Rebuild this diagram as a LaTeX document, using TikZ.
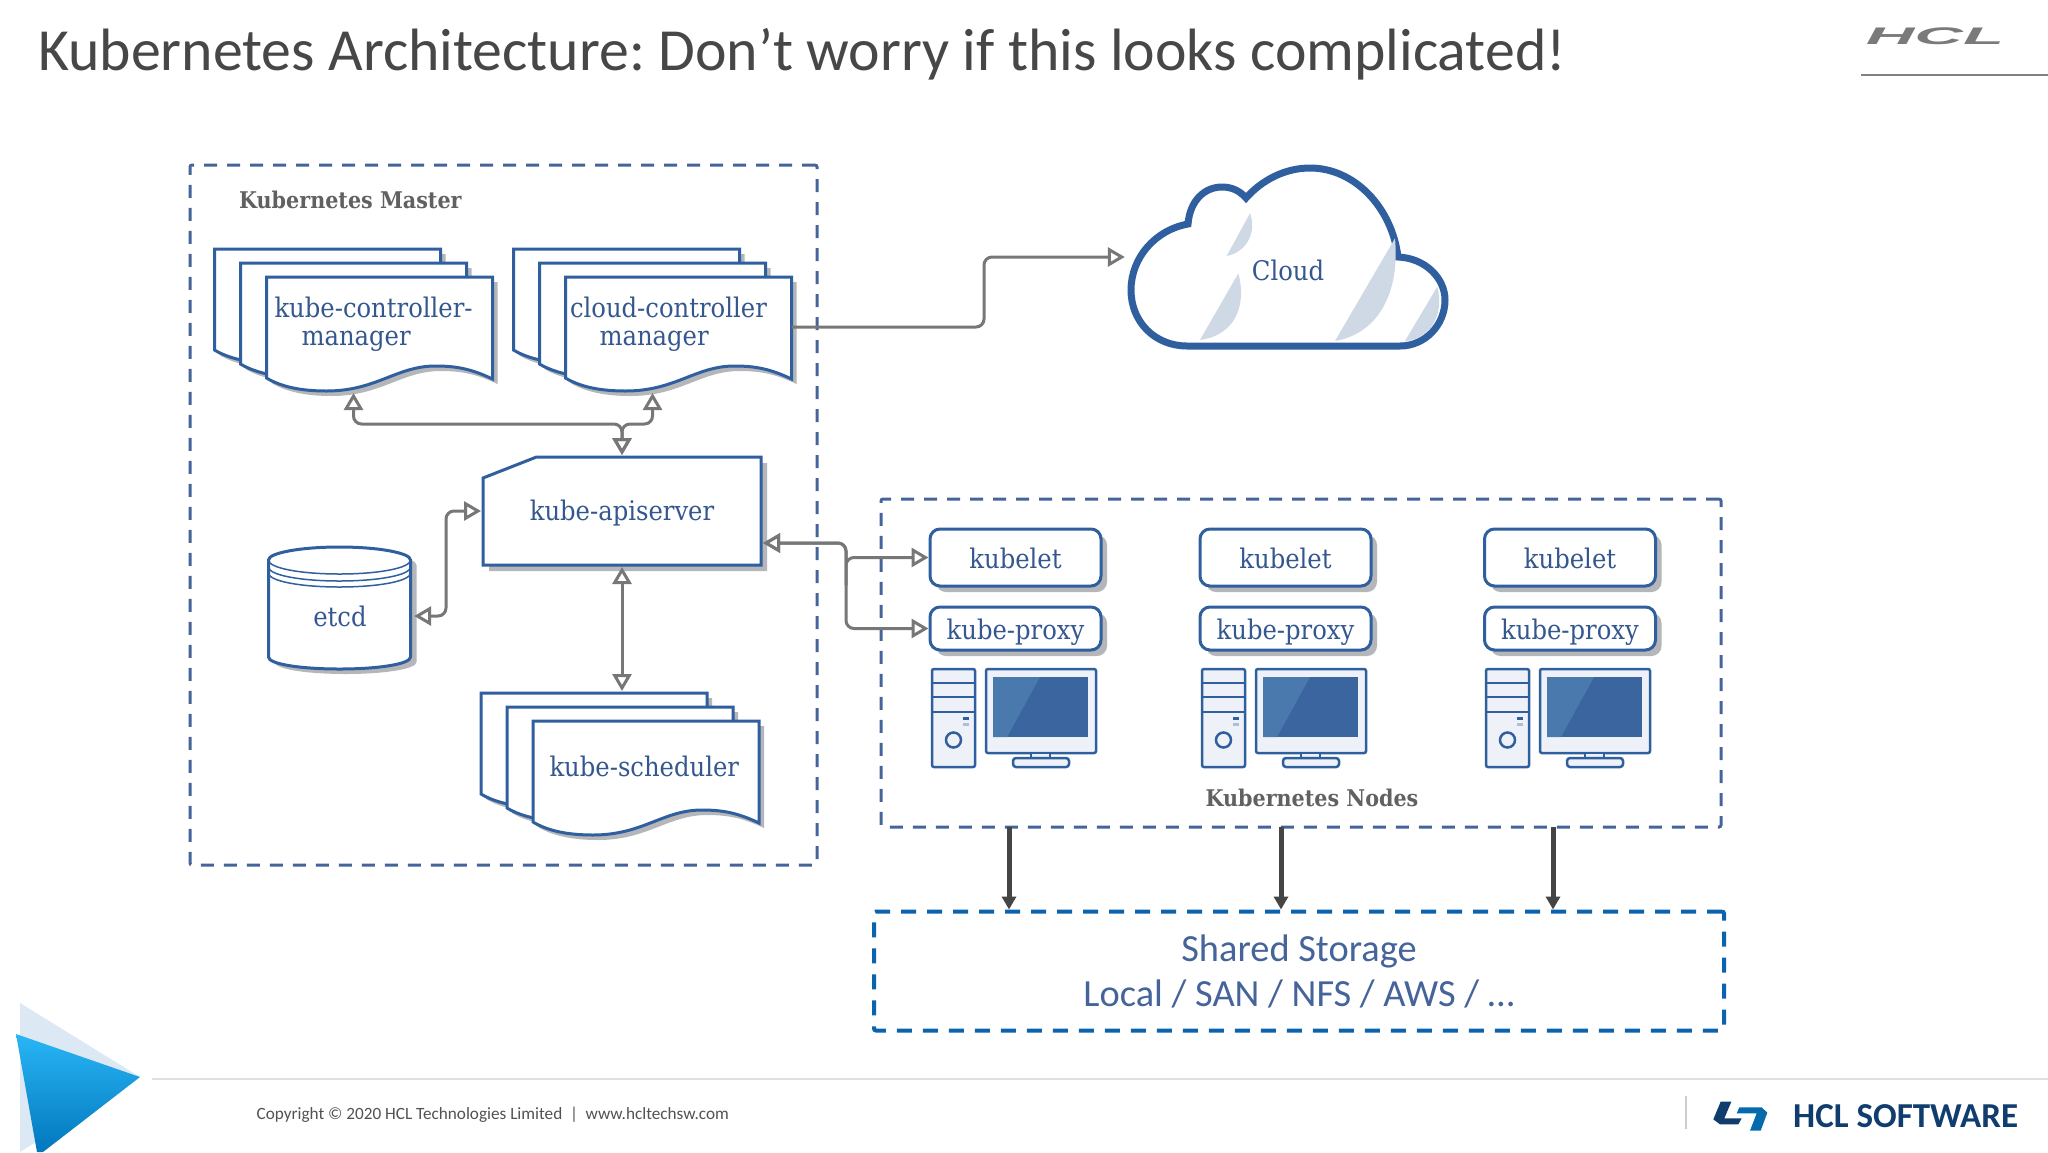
\documentclass[tikz,border=0pt]{standalone}
\usepackage{fontspec}
\setmainfont{Carlito}
\newfontfamily\slabfont{DejaVu Serif Condensed}
\newfontfamily\markfont{Liberation Sans}
\usepackage{tikz}
\usetikzlibrary{arrows.meta, calc, shadows, positioning}

\definecolor{linkgray}{HTML}{777777}
\definecolor{shadowgray}{HTML}{B4B6B9}
\definecolor{kubeblue}{HTML}{2F5F9F}
\definecolor{screenblue}{HTML}{3A659E}
\definecolor{screenlight}{HTML}{4A79AE}
\definecolor{dashblue}{HTML}{44649A}
\definecolor{storeblue}{HTML}{0B63AE}
\definecolor{textblue}{HTML}{34578F}
\definecolor{stripe}{HTML}{CFD9E6}
\definecolor{paleblue}{HTML}{EEF2F8}
\definecolor{triangletop}{HTML}{29B6F6}
\definecolor{trianglelow}{HTML}{0277BD}
\definecolor{trianglepale}{HTML}{DCE9F5}
\definecolor{softnavy}{HTML}{0F3D6E}

\newcommand{\sheetpath}{(0,0) -- (226,0) -- (226,102)
 .. controls (205,92) and (190,89) .. (169,89)
 .. controls (130,89) and (110,114) .. (60,114)
 .. controls (35,114) and (15,110) .. (0,101) -- cycle}

\newcommand{\etcdpath}{(268.5,560) .. controls (268.5,553) and (300,547) .. (339.5,547)
 .. controls (379,547) and (410.5,553) .. (410.5,560) -- (410.5,657)
 .. controls (410.5,664) and (379,669) .. (339.5,669)
 .. controls (300,669) and (268.5,664) .. (268.5,657) -- cycle}

\newcommand{\apipath}{(536.5,457) -- (761,457) -- (761,565) -- (483,565) -- (483,478) -- cycle}

% three sheets, then the named label on top
\newcommand{\docstack}[4]{
 \foreach \dx/\dy in {0/0,26/14,52/28}{
  \begin{scope}[shift={(#2+\dx,#3+\dy)}]
   \fill[shadowgray, shift={(5,5)}] \sheetpath;
   \draw[sheet] \sheetpath;
  \end{scope}
 }
 \node[doclabel] (#1) at (#2+165,#3+75) {#4};
 \coordinate (#1-port) at (#2+139,#3+144);
 \coordinate (#1-out) at (#2+278,#3+78);
}

\newcommand{\computer}[1]{
 \begin{scope}[shift={(#1,0)}]
  \draw[pcline, rounded corners=2pt] (0,669) rectangle (43,767);
  \draw[pcline, line width=1.5pt] (0,683) -- (43,683) (0,697) -- (43,697) (0,712) -- (43,712);
  \draw[kubeblue, line width=2.5pt] (21.5,740) circle (7.5);
  \fill[kubeblue] (31,717) rectangle (37,720);
  \fill[kubeblue!40] (31,723) rectangle (37,726);
  \draw[pcline, rounded corners=2pt] (54,669) rectangle (164,753);
  \fill[screenblue] (61,677) rectangle (156,737);
  \fill[screenlight] (61,677) -- (108,677) -- (75,737) -- (61,737) -- cycle;
  \draw[pcline] (99,753) rectangle (118,758);
  \draw[pcline, rounded corners=3pt] (81,758) rectangle (137,767);
 \end{scope}
}

\begin{document}
\frenchspacing
\begin{tikzpicture}[
 x=1pt, y=-1pt,
 sheet/.style={draw=kubeblue, fill=white, line width=3pt, line join=miter},
 doclabel/.style={inner sep=0pt, minimum width=226pt, minimum height=100pt, text width=226pt, align=left,
  text=textblue, font=\slabfont\fontsize{27}{28.5}\selectfont},
 pcline/.style={draw=kubeblue, fill=paleblue, line width=2.5pt},
 svcbox/.style={draw=kubeblue, fill=white, line width=3pt, rounded corners=10pt, minimum width=171pt,
  text=textblue, font=\slabfont\fontsize{27}{30}\selectfont, inner sep=0pt, text height=21pt, text depth=0pt,
  drop shadow={shadow xshift=6pt, shadow yshift=-6pt, fill=shadowgray, opacity=1}},
 dashbox/.style={draw=dashblue, line width=3pt, dash pattern=on 13pt off 10pt, rounded corners=2pt, inner sep=0pt},
 grouplabel/.style={text=black!62, font=\slabfont\bfseries\fontsize{23}{25}\selectfont},
 biarrow/.style={linkgray, line width=3pt, rounded corners=8pt,
  {Triangle[open,length=17pt,width=19pt]}-{Triangle[open,length=17pt,width=19pt]}},
 onearrow/.style={linkgray, line width=3pt, rounded corners=8pt, -{Triangle[open,length=17pt,width=19pt]}},
 droparrow/.style={black!73, line width=5pt, -{Triangle[length=13pt,width=14pt]}},
 ]
 \useasboundingbox (0,0) rectangle (2048,1152);
 \fill[white] (0,0) rectangle (2048,1152);

 \node[anchor=base west, inner sep=0pt, text=black!72, font=\fontsize{59.75}{62}\selectfont] (title) at (38,70)
 {Kubernetes Architecture: Don’t worry if this looks complicated!};

 % HCL mark top right
 \node[inner sep=0pt, text=black!52, font=\markfont\fontsize{24}{24}\selectfont\bfseries\itshape] (hclmark) at (1935,36.5)
 {\scalebox{2.8}[1]{HCL}};
 \coordinate (ruleleft) at (1861,75);
 \coordinate (ruleright) at (2048,75);
 \draw[black!50, line width=1.5pt] (ruleleft) -- (ruleright);

 % master and nodes frames
 \node[dashbox, minimum width=627pt, minimum height=700pt] (master) at (503.5,515) {};
 \node[dashbox, minimum width=840pt, minimum height=328pt] (nodesbox) at (1301,663) {};
 \node[grouplabel, anchor=west, inner sep=0pt] (masterlabel) at (239,200) {Kubernetes Master};
 \node[grouplabel, inner sep=0pt] (nodeslabel) at (1312,798) {Kubernetes Nodes};

 \docstack{kcm}{214.5}{249}{\hspace*{8pt}kube-controller-\\\hspace*{35pt}manager}
 \docstack{ccm}{513.5}{249}{\hspace*{4.5pt}cloud-controller\\\hspace*{34pt}manager}
 \docstack{scheduler}{481}{693}{\raisebox{4pt}{\hspace*{16.5pt}kube-scheduler}}

 % apiserver
 \fill[shadowgray, shift={(6,6)}] \apipath;
 \draw[sheet] \apipath;
 \node[inner sep=0pt, outer sep=2pt, minimum width=278pt, minimum height=108pt, text=textblue, text height=18pt, text depth=0pt,
  font=\slabfont\fontsize{27}{30}\selectfont] (apiserver) at (622,511) {kube-apiserver};
 \coordinate (apiserver-right) at (763,543);

 % etcd
 \fill[shadowgray, shift={(6,5)}] \etcdpath;
 \draw[sheet] \etcdpath;
 \foreach \dy in {0,7,13}{
  \draw[kubeblue, line width=1.5pt] (268.5,560+\dy) .. controls (268.5,568+\dy) and (300,574+\dy) .. (339.5,574+\dy)
   .. controls (379,574+\dy) and (410.5,568+\dy) .. (410.5,560+\dy);
 }
 \node[inner sep=0pt, minimum width=148pt, minimum height=106pt, text=textblue,
  font=\slabfont\fontsize{27}{30}\selectfont] (etcd) at (340,616) {etcd};

 % cloud
 \draw[kubeblue, fill=white, line width=7pt] (1187,346) .. controls (1155,346) and (1131,322) .. (1131,290)
  .. controls (1131,258) and (1155,230) .. (1188,224)
  .. controls (1190,200) and (1205,187) .. (1222,187)
  .. controls (1232,187) and (1240,191) .. (1246,198)
  .. controls (1262,180) and (1285,168) .. (1310,168)
  .. controls (1355,168) and (1392,208) .. (1398,257)
  .. controls (1425,258) and (1445,278) .. (1445,300)
  .. controls (1445,325) and (1425,346) .. (1400,346) -- cycle;
 \begin{scope}[shift={(1100,150)}, x=0.3333pt, y=-0.3333pt]
  \fill[stripe] (450,190) .. controls (470,240) and (445,305) .. (380,318) -- cycle;
  \fill[stripe] (415,370) .. controls (440,460) and (410,555) .. (300,570) -- cycle;
  \fill[stripe] (885,265) .. controls (900,420) and (840,550) .. (705,573) -- cycle;
  \fill[stripe] (1012,410) .. controls (1035,500) and (985,570) .. (915,573) -- cycle;
 \end{scope}
 \node[inner sep=0pt, minimum width=326pt, minimum height=178pt, text=textblue,
  font=\slabfont\fontsize{27}{30}\selectfont] (cloud) at (1288,257) {\raisebox{-23pt}[0pt][0pt]{Cloud}};

 % worker columns
 \foreach \col/\xc in {a/1015.5,b/1285.5,c/1570}{
  \node[svcbox, minimum height=57pt] (kubelet\col) at (\xc,557.5) {kubelet};
  \node[svcbox, minimum height=43pt] (kubeproxy\col) at (\xc,628.5) {kube-proxy};
 }
 \computer{932}
 \computer{1202}
 \computer{1486}

 % storage
 \node[dashbox, draw=storeblue, line width=4pt, dash pattern=on 15pt off 11pt, minimum width=850pt, minimum height=119pt,
  text=dashblue, align=center, font=\fontsize{38.4}{45}\selectfont] (storage) at (1299,971)
 {Shared Storage\\Local / SAN / NFS / AWS / …};

 % connectors
 \coordinate (fork) at (622,424);
 \draw[biarrow] (kcm-port) |- (fork) -- (apiserver.north);
 \draw[biarrow] (ccm-port) |- (fork) -- (apiserver.north);
 \coordinate (etcdbend) at (446,560);
 \draw[biarrow] (etcd.east) -| (etcdbend) |- (apiserver.west);
 \coordinate (scheduler-top) at (622,691);
 \draw[biarrow] (apiserver.south) -- (scheduler-top);
 \coordinate (cloudbend) at (984,290);
 \draw[onearrow] (ccm-out) -| (cloudbend) |- (cloud.west);
 \coordinate (split) at (846,590);
 \draw[biarrow] (apiserver-right) -| (split) |- (kubeleta.west);
 \draw[biarrow] (apiserver-right) -| (split) |- (kubeproxya.west);
 \foreach \n/\xd in {1/1009,2/1281,3/1553}{
  \coordinate (drop\n) at (\xd,827);
  \draw[droparrow] (drop\n) -- (drop\n |- storage.north);
 }

 % footer
 \fill[trianglepale] (20,1003) -- (140,1077) -- (20,1152) -- cycle;
 \shade[top color=triangletop, bottom color=trianglelow] (16,1034) -- (140,1077) -- (43,1152) -- (37,1152) -- cycle;
 \coordinate (footleft) at (152,1079);
 \coordinate (footright) at (2048,1079);
 \draw[black!12, line width=1.5pt] (footleft) -- (footright);
 \node[anchor=west, inner sep=0pt, text=black!68, font=\fontsize{17.2}{20}\selectfont] (copyright) at (256.5,1115)
 {Copyright © 2020 HCL Technologies Limited \ | \ www.hcltechsw.com};
 \coordinate (sepT) at (1686,1096);
 \coordinate (sepB) at (1686,1129);
 \draw[black!20, line width=1.5pt] (sepT) -- (sepB);
 \begin{scope}[shift={(1640,1060)}, x=0.3333pt, y=-0.3333pt]
  \fill[softnavy] (242,125) -- (274,125) -- (253,175) -- (305,175) -- (295,193) -- (240,193) -- (220,178) -- cycle;
  \fill[trianglelow!80!softnavy] (298,142) -- (365,142) -- (382,158) -- (362,212) -- (330,212) -- (350,160) -- (290,160) -- cycle;
 \end{scope}
 \node[anchor=west, inner sep=0pt, text=softnavy, font=\fontsize{35}{38}\selectfont\bfseries] (hclsoftware) at (1793,1116)
 {HCL SOFTWARE};
\end{tikzpicture}
\end{document}
